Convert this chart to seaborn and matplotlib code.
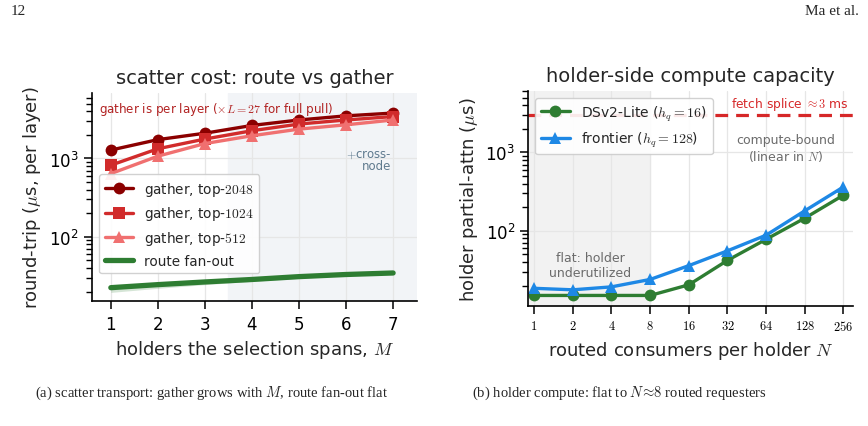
import matplotlib
matplotlib.use("Agg")
import matplotlib.pyplot as plt
import matplotlib.ticker as mticker
import numpy as np
import pandas as pd
import seaborn as sns

# ---- data ----
holders = [1, 2, 3, 4, 5, 6, 7]
gather_2048 = [1280, 1740, 2100, 2640, 3100, 3500, 3800]
gather_1024 = [820, 1330, 1770, 2260, 2750, 3100, 3430]
gather_512 = [640, 1070, 1550, 1950, 2370, 2690, 3100]
route_fanout = [22.4, 24.5, 26.5, 28.5, 31.0, 33.0, 34.5]
route_lo = [19.5, 22.0, 24.5, 27.0, 29.5, 31.8, 33.5]

consumers = [1, 2, 4, 8, 16, 32, 64, 128, 256]
dsv2_lite = [15, 15, 15, 15, 20.5, 42, 78, 145, 285]
frontier = [18.5, 17.7, 19.3, 24, 36, 55.6, 88, 180, 363]
fetch_splice_us = 3000

sns.set_theme(style="ticks")
plt.rcParams.update({
    "font.family": ["DejaVu Sans"],
    "mathtext.fontset": "cm",
    "axes.linewidth": 1.2,
    "xtick.major.width": 1.1,
    "ytick.major.width": 1.1,
    "axes.edgecolor": "black",
    "xtick.color": "black",
    "ytick.color": "black",
})

C_DARK = "#8b0000"
C_MID = "#d12b2b"
C_LIGHT = "#f07070"
C_GREEN = "#2e7d32"
C_BLUE = "#1e88e5"

fig = plt.figure(figsize=(8.68, 4.27), dpi=100)
ax1 = fig.add_axes([0.106, 0.292, 0.374, 0.489])
ax2 = fig.add_axes([0.6087, 0.281, 0.3737, 0.504])

# ---- (a) scatter cost ----
df_a = pd.DataFrame({"M": holders, "g2048": gather_2048, "g1024": gather_1024,
                     "g512": gather_512, "route": route_fanout})
ax1.axvspan(3.5, 7.5, color="#f2f4f7", zorder=0)
line_kw = dict(linewidth=2.4, markersize=8.5, markeredgewidth=0)
sns.lineplot(data=df_a, x="M", y="g2048", ax=ax1, color=C_DARK, marker="o",
             label="gather, top-$2048$", **line_kw)
sns.lineplot(data=df_a, x="M", y="g1024", ax=ax1, color=C_MID, marker="s",
             label="gather, top-$1024$", **line_kw)
sns.lineplot(data=df_a, x="M", y="g512", ax=ax1, color=C_LIGHT, marker="^",
             label="gather, top-$512$", **line_kw)
ax1.fill_between(holders, route_lo, route_fanout, color=C_GREEN, alpha=0.2,
                 linewidth=0)
sns.lineplot(data=df_a, x="M", y="route", ax=ax1, color=C_GREEN, linewidth=3.8,
             label="route fan-out")
ax1.set_yscale("log")
ax1.set_xlim(0.6, 7.5)
ax1.set_ylim(15, 6950)
ax1.set_xticks(holders)
ax1.tick_params(axis="both", labelsize=12)
ax1.grid(True, color="#e6e6e6", linewidth=0.9)
ax1.set_axisbelow(True)
ax1.set_title("scatter cost: route vs gather", fontsize=14, pad=7)
ax1.set_xlabel("holders the selection spans, $M$", fontsize=13)
ax1.set_ylabel(r"round-trip ($\mu$s, per layer)", fontsize=13)
ax1.text(0.022, 0.925, r"gather is per layer ($\times L = 27$ for full pull)",
         transform=ax1.transAxes, color="#b22222", fontsize=8.6, va="center")
ax1.text(0.922, 0.68, "$+$cross-\nnode", transform=ax1.transAxes,
         color="#5f7a8e", fontsize=8.5, ha="right", va="center",
         linespacing=0.95)
ax1.legend(loc="upper left", bbox_to_anchor=(0.022, 0.609), borderaxespad=0,
           fontsize=9.8, frameon=True, framealpha=0.9, edgecolor="#cccccc",
           handlelength=2.1)
sns.despine(ax=ax1)

# ---- (b) holder compute ----
df_b = pd.DataFrame({"N": consumers, "dsv2": dsv2_lite, "frontier": frontier})
ax2.set_xscale("log", base=2)
ax2.axvspan(2 ** -0.15, 8, color="#f2f2f2", zorder=0)
ax2.axhline(fetch_splice_us, color="#d62728", linestyle=(0, (4, 2.5)),
            linewidth=2.3)
sns.lineplot(data=df_b, x="N", y="dsv2", ax=ax2, color=C_GREEN, marker="o",
             label=r"DSv2-Lite ($h_q = 16$)", **line_kw)
sns.lineplot(data=df_b, x="N", y="frontier", ax=ax2, color=C_BLUE, marker="^",
             label=r"frontier ($h_q = 128$)", **line_kw)
ax2.set_yscale("log")
ax2.set_xlim(2 ** -0.15, 2 ** 8.24)
ax2.set_ylim(11, 6100)
ax2.set_xticks(consumers)
ax2.xaxis.set_minor_locator(mticker.NullLocator())
ax2.set_xticklabels([f"${c}$" for c in consumers], fontsize=9)
ax2.tick_params(axis="y", labelsize=12)
ax2.grid(True, color="#e6e6e6", linewidth=0.9)
ax2.set_axisbelow(True)
ax2.set_title("holder-side compute capacity", fontsize=14, pad=7)
ax2.set_xlabel("routed consumers per holder $N$", fontsize=13)
ax2.set_ylabel(r"holder partial-attn ($\mu$s)", fontsize=13)
ax2.text(0.987, 0.94, r"fetch splice $\approx 3$ ms", transform=ax2.transAxes,
         color="#d62728", fontsize=8.8, ha="right", va="center")
ax2.text(0.792, 0.735, "compute-bound\n(linear in $N$)", transform=ax2.transAxes,
         color="#6b6b6b", fontsize=9, ha="center", va="center")
ax2.text(0.19, 0.192, "flat: holder\nunderutilized", transform=ax2.transAxes,
         color="#6b6b6b", fontsize=9, ha="center", va="center")
ax2.legend(loc="upper left", fontsize=10, frameon=True, framealpha=0.9,
           edgecolor="#cccccc", handlelength=2.1)
sns.despine(ax=ax2)

# ---- page furniture ----
serif = ["Liberation Serif", "DejaVu Serif"]
fig.text(0.012, 0.972, "12", family=serif, fontsize=11, va="center")
fig.text(0.99, 0.972, "Ma et al.", family=serif, fontsize=11, va="center",
         ha="right")
fig.text(0.244, 0.08, "(a) scatter transport: gather grows with $M$, route fan-out flat",
         family=serif, fontsize=10.5, ha="center", va="center")
fig.text(0.713, 0.08, r"(b) holder compute: flat to $N\!\approx\!8$ routed requesters",
         family=serif, fontsize=10.5, ha="center", va="center")

fig.savefig("out.png", dpi=100)
